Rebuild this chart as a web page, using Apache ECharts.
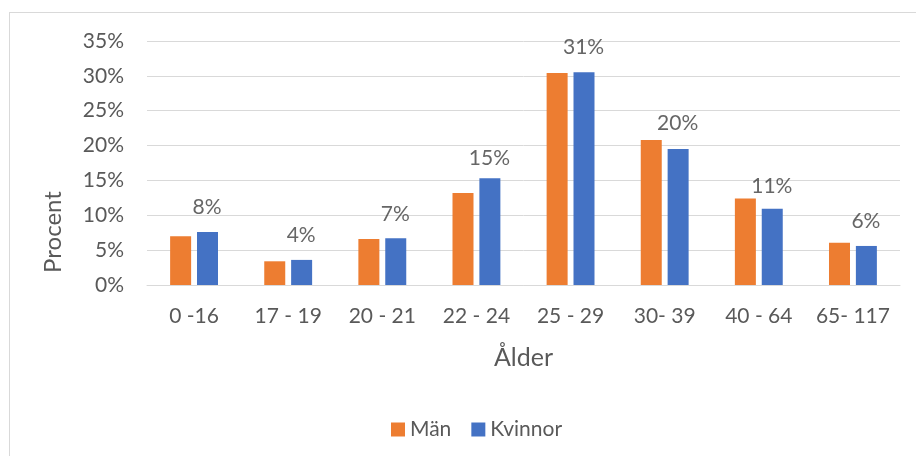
<!DOCTYPE html>
<html>
<head>
<meta charset="utf-8">
<script src="https://cdn.jsdelivr.net/npm/echarts@6/dist/echarts.min.js"></script>
<style>
  html, body { margin: 0; padding: 0; background: #fff; }
  #chart {
    width: 916px;
    height: 456px;
  }
  .frame {
    position: absolute;
    left: 9px;
    top: 12px;
    width: 920px;
    height: 460px;
    border: 1px solid #d9d9d9;
    box-sizing: border-box;
  }
</style>
</head>
<body>
<div class="frame"></div>
<div id="chart" style="position:absolute;left:0;top:0"></div>
<script>
const categories = ['0 -16', '17 - 19', '20 - 21', '22 - 24', '25 - 29', '30- 39', '40 - 64', '65- 117']
const man = [7.0, 3.4, 6.6, 13.2, 30.4, 20.8, 12.4, 6.05]
const kvinnor = [7.6, 3.6, 6.7, 15.3, 30.5, 19.5, 10.95, 5.6]
// the labels above each group
const labels = [8, 4, 7, 15, 31, 20, 11, 6]
const yTicks = [0, 5, 10, 15, 20, 25, 30, 35]

const font = 'Lato, "Open Sans", sans-serif'
const textColor = '#595959'

const chart = echarts.init(document.getElementById('chart'))
chart.setOption({
  animation: false,
  color: ['#ED7D31', '#4472C4'],
  textStyle: { fontFamily: font },
  grid: {
    left: 147,
    right: 16,
    top: 41,
    bottom: 171
  },
  legend: {
    data: ['Män', 'Kvinnor'],
    left: 386,
    top: 414,
    icon: 'rect',
    itemWidth: 14,
    itemHeight: 14,
    itemGap: 20,
    textStyle: { color: textColor, fontSize: 21, fontFamily: font }
  },
  graphic: [
    {
      type: 'text',
      x: 53,
      y: 232,
      rotation: Math.PI / 2,
      style: {
        text: 'Procent',
        fill: textColor,
        font: '24px ' + font,
        align: 'center',
        verticalAlign: 'middle'
      }
    }
  ],
  xAxis: {
    type: 'category',
    data: categories,
    name: 'Ålder',
    nameLocation: 'middle',
    nameGap: 60,
    nameTextStyle: { color: textColor, fontSize: 25, fontFamily: font },
    axisLine: { lineStyle: { color: '#d9d9d9' } },
    axisTick: { show: false },
    axisLabel: {
      color: textColor,
      fontSize: 21,
      margin: 21,
      interval: 0
    }
  },
  yAxis: {
    type: 'value',
    min: 0,
    max: 35,
    interval: 5,
    axisLine: { show: false },
    axisTick: { show: false },
    splitLine: { lineStyle: { color: '#d9d9d9', width: 1 } },
    axisLabel: {
      color: textColor,
      fontSize: 21,
      margin: 23,
      formatter: v => (yTicks.includes(v) ? v + '%' : '')
    }
  },
  series: [
    {
      name: 'Män',
      type: 'bar',
      barWidth: 21,
      barGap: '28%',
      data: man
    },
    {
      name: 'Kvinnor',
      type: 'bar',
      barWidth: 21,
      data: kvinnor
    },
    {
      name: 'etikett',
      type: 'scatter',
      symbolSize: 1,
      itemStyle: { color: 'rgba(0,0,0,0)' },
      data: labels,
      label: {
        show: true,
        position: 'top',
        distance: 11,
        offset: [13, 0],
        color: '#404040',
        fontSize: 21,
        fontFamily: font,
        formatter: p => p.value + '%'
      },
      z: 5
    }
  ]
})
</script>
</body>
</html>
